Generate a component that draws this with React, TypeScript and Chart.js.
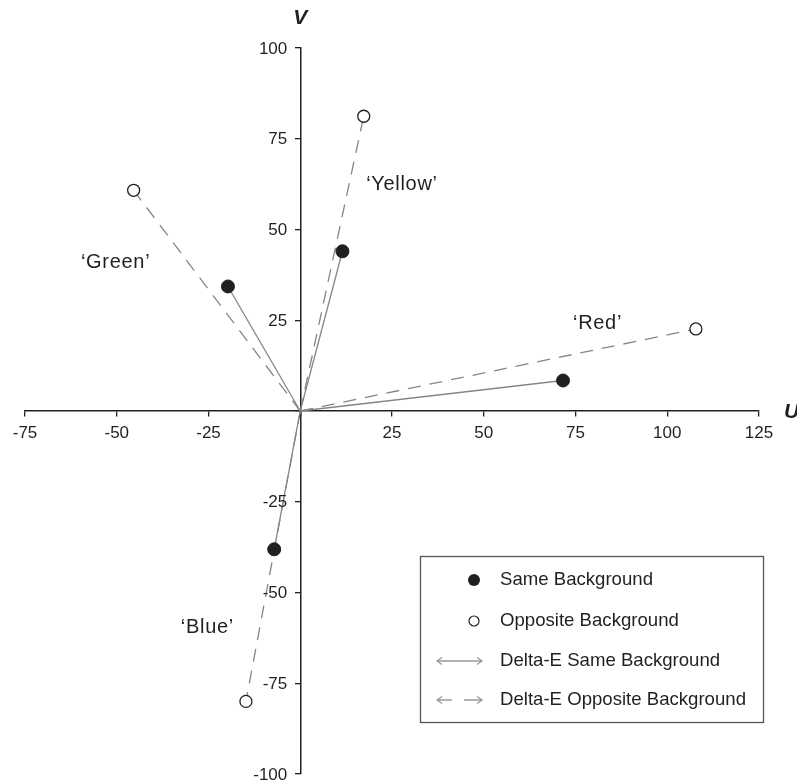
import React, { useEffect, useRef } from "react";
import { Chart, registerables } from "chart.js";

Chart.register(...registerables);

const colorNames = ["\u2018Red\u2019", "\u2018Yellow\u2019", "\u2018Green\u2019", "\u2018Blue\u2019"];
const sameU = [71.6, 11.5, -19.7, -7.1];
const sameV = [8.4, 44.0, 34.3, -38.1];
const oppU = [107.8, 17.3, -45.4, -14.8];
const oppV = [22.6, 81.2, 60.8, -80.0];
const labelU = [81.0, 27.7, -50.3, -25.3];
const labelV = [24.2, 62.3, 40.8, -59.5];
const xRange = [-75, 125];
const yRange = [-100, 100];
const tickStep = 25;
const legendItems = ["Same Background", "Opposite Background", "Delta-E Same Background", "Delta-E Opposite Background"];

const INK = "#231f20";
const GRAY = "#858585";
const FONT = "'Liberation Sans', Arial, Helvetica, sans-serif";

const overlayPlugin = {
  id: "overlay",
  afterDraw(chart: any) {
    const ctx = chart.ctx;
    const xs = chart.scales.x;
    const ys = chart.scales.y;
    const x0 = xs.getPixelForValue(0);
    const y0 = ys.getPixelForValue(0);
    ctx.save();
    // y tick labels
    ctx.fillStyle = INK;
    ctx.font = `17px ${FONT}`;
    ctx.textAlign = "right";
    ctx.textBaseline = "middle";
    ys.ticks.forEach((t: any) => {
      if (t.value === 0) return;
      ctx.fillText(String(t.value), x0 - 13, ys.getPixelForValue(t.value) + 1);
    });
    // axis titles
    ctx.font = `italic bold 21px ${FONT}`;
    ctx.textAlign = "center";
    ctx.fillText("V", x0, 18);
    ctx.textAlign = "left";
    ctx.fillText("U", xs.right + 25, y0 + 1);
    // category labels
    ctx.font = `20px ${FONT}`;
    (ctx as any).letterSpacing = "0.7px";
    ctx.textAlign = "center";
    colorNames.forEach((n, i) => {
      ctx.fillText(n, xs.getPixelForValue(labelU[i]), ys.getPixelForValue(labelV[i]));
    });
    (ctx as any).letterSpacing = "0px";
    // legend
    const L = 420, T = 556, R = 763, B = 722;
    ctx.strokeStyle = "#555";
    ctx.lineWidth = 1.3;
    ctx.strokeRect(L + 0.5, T + 0.5, R - L, B - T);
    const rows = [580, 621, 661, 700];
    const mx = 474;
    ctx.font = `18.6px ${FONT}`;
    ctx.textAlign = "left";
    ctx.textBaseline = "middle";
    legendItems.forEach((t, i) => {
      ctx.fillStyle = INK;
      ctx.fillText(t, 500, rows[i]);
    });
    // markers
    ctx.fillStyle = INK;
    ctx.beginPath();
    ctx.arc(mx, rows[0], 6, 0, Math.PI * 2);
    ctx.fill();
    ctx.fillStyle = "#fff";
    ctx.strokeStyle = INK;
    ctx.lineWidth = 1.2;
    ctx.beginPath();
    ctx.arc(mx, rows[1], 5, 0, Math.PI * 2);
    ctx.fill();
    ctx.stroke();
    // arrows
    ctx.strokeStyle = "#999";
    ctx.lineWidth = 1.3;
    const head = (x: number, y: number, dir: number) => {
      ctx.beginPath();
      ctx.moveTo(x - dir * 5, y - 3.5);
      ctx.lineTo(x, y);
      ctx.lineTo(x - dir * 5, y + 3.5);
      ctx.stroke();
    };
    let y = rows[2];
    ctx.beginPath();
    ctx.moveTo(437, y);
    ctx.lineTo(482, y);
    ctx.stroke();
    head(437, y, -1);
    head(482, y, 1);
    y = rows[3];
    ctx.beginPath();
    ctx.moveTo(437, y);
    ctx.lineTo(452, y);
    ctx.moveTo(464, y);
    ctx.lineTo(482, y);
    ctx.stroke();
    head(437, y, -1);
    head(482, y, 1);
    ctx.restore();
  },
};

export default function App() {
  const ref = useRef<HTMLCanvasElement | null>(null);
  useEffect(() => {
    if (!ref.current) return;
    const lineSets: any[] = [];
    sameU.forEach((u, i) => {
      lineSets.push({
        data: [{ x: 0, y: 0 }, { x: u, y: sameV[i] }],
        showLine: true,
        borderColor: GRAY,
        borderWidth: 1.3,
        pointRadius: 0,
        order: 2,
      });
    });
    oppU.forEach((u, i) => {
      lineSets.push({
        data: [{ x: 0, y: 0 }, { x: u, y: oppV[i] }],
        showLine: true,
        borderColor: GRAY,
        borderWidth: 1.3,
        borderDash: [13, 9],
        pointRadius: 0,
        order: 2,
      });
    });
    const chart = new Chart(ref.current, {
      type: "scatter",
      data: {
        datasets: [
          {
            label: "Same Background",
            data: sameU.map((u, i) => ({ x: u, y: sameV[i] })),
            pointRadius: 6.5,
            pointBackgroundColor: INK,
            pointBorderColor: INK,
            pointBorderWidth: 1,
            order: 0,
          },
          {
            label: "Opposite Background",
            data: oppU.map((u, i) => ({ x: u, y: oppV[i] })),
            pointRadius: 6,
            pointBackgroundColor: "#fff",
            pointBorderColor: INK,
            pointBorderWidth: 1.3,
            order: 0,
          },
          ...lineSets,
        ],
      },
      options: {
        responsive: false,
        animation: false,
        layout: { padding: { left: 25, right: 38, top: 48, bottom: 8 } },
        plugins: { legend: { display: false }, tooltip: { enabled: false } },
        scales: {
          x: {
            type: "linear",
            min: xRange[0],
            max: xRange[1],
            position: { y: 0 } as any,
            ticks: {
              stepSize: tickStep,
              color: INK,
              font: { family: FONT, size: 17 },
              padding: 7,
              maxRotation: 0,
              callback: (v: any) => (v === 0 ? "" : String(v)),
            },
            grid: { drawOnChartArea: false, drawTicks: true, tickLength: 5, color: INK, lineWidth: 1.3 },
            border: { display: true, color: INK, width: 1.5 },
          },
          y: {
            type: "linear",
            min: yRange[0],
            max: yRange[1],
            position: { x: 0 } as any,
            ticks: {
              stepSize: tickStep,
              display: false,
            },
            grid: { drawOnChartArea: false, drawTicks: true, tickLength: 5, color: INK, lineWidth: 1.3 },
            border: { display: true, color: INK, width: 1.5 },
          },
        },
      },
      plugins: [overlayPlugin],
    });
    return () => chart.destroy();
  }, []);
  return (
    <div style={{ position: "absolute", left: 0, top: 0, width: 797, height: 782, background: "#fff" }}>
      <canvas ref={ref} width={797} height={782} style={{ display: "block" }} />
    </div>
  );
}
